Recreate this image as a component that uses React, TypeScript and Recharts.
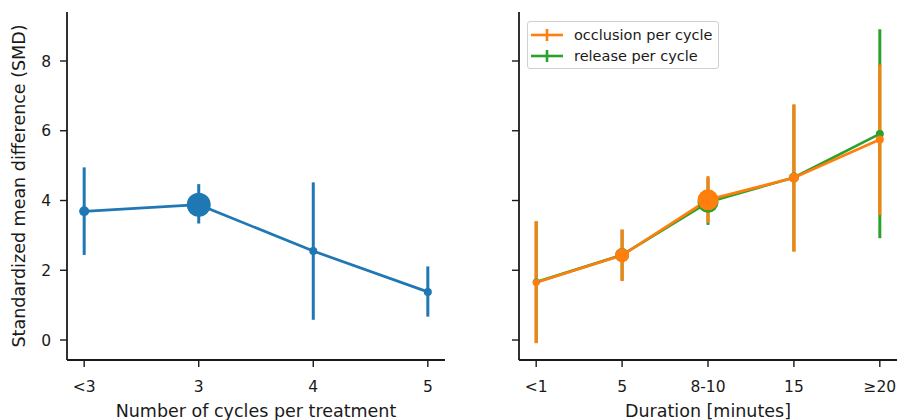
import { ComposedChart, Line, XAxis, YAxis, ErrorBar, Legend } from "recharts";

// Left panel: number of cycles per treatment
const cycleLabels = ["<3", "3", "4", "5"];
const cycleMean = [3.69, 3.88, 2.55, 1.38];
const cycleLow = [2.44, 3.34, 0.58, 0.67];
const cycleHigh = [4.95, 4.47, 4.52, 2.11];
const cycleDotR = [5, 12, 4, 4];

// Right panel: duration
const durationLabels = ["<1", "5", "8-10", "15", "≥20"];
const occlusionMean = [1.65, 2.43, 4.02, 4.65, 5.75];
const occlusionLow = [-0.09, 1.69, 3.36, 2.53, 3.58];
const occlusionHigh = [3.41, 3.17, 4.7, 6.76, 7.9];
const releaseMean = [1.66, 2.44, 3.95, 4.66, 5.91];
const releaseLow = [-0.08, 1.7, 3.3, 2.55, 2.92];
const releaseHigh = [3.4, 3.16, 4.66, 6.74, 8.91];
const durationDotR = [3.5, 7, 10.5, 5, 4];

const yTicks = [0, 2, 4, 6, 8];
const yDomain: [number, number] = [-0.573, 9.405];

const BLUE = "#1f77b4";
const ORANGE = "#ff7f0e";
const GREEN = "#2ca02c";
const FONT = "DejaVu Sans, sans-serif";
const INK = "#1a1a1a";

const leftData = cycleLabels.map((_, i) => ({
  x: i,
  mean: cycleMean[i],
  err: [cycleMean[i] - cycleLow[i], cycleHigh[i] - cycleMean[i]],
}));

const rightData = durationLabels.map((_, i) => ({
  x: i,
  occ: occlusionMean[i],
  occErr: [occlusionMean[i] - occlusionLow[i], occlusionHigh[i] - occlusionMean[i]],
  rel: releaseMean[i],
  relErr: [releaseMean[i] - releaseLow[i], releaseHigh[i] - releaseMean[i]],
}));

const tickStyle = { fontSize: 15.5, fill: INK, fontFamily: FONT };
const labelStyle = { fontSize: 17.5, fill: INK, fontFamily: FONT };
const axisLine = { stroke: INK, strokeWidth: 1.8 };
const tickLine = { stroke: INK, strokeWidth: 1.4 };

function dotRenderer(color: string, radii: number[]) {
  return (p: any) => (
    <circle key={`d-${p.index}`} cx={p.cx} cy={p.cy} r={radii[p.index]} fill={color} stroke="none" />
  );
}

function LegendBox() {
  const rows = [
    { label: "occlusion per cycle", color: ORANGE },
    { label: "release per cycle", color: GREEN },
  ];
  return (
    <div
      style={{
        border: "1px solid #d0d0d0",
        borderRadius: 3,
        background: "rgba(255,255,255,0.85)",
        padding: "2px 6px 2px 3px",
        fontFamily: FONT,
        fontSize: 14.5,
        color: INK,
        whiteSpace: "nowrap",
      }}
    >
      {rows.map((r) => (
        <div key={r.label} style={{ display: "flex", alignItems: "center", height: 21 }}>
          <svg width={32} height={14} style={{ marginRight: 11 }}>
            <line x1={0} y1={7} x2={32} y2={7} stroke={r.color} strokeWidth={2.6} />
            <line x1={16} y1={1} x2={16} y2={13} stroke={r.color} strokeWidth={2.6} />
          </svg>
          <span>{r.label}</span>
        </div>
      ))}
    </div>
  );
}

export default function App() {
  return (
    <div style={{ position: "fixed", left: 0, top: 0, width: 898, height: 420, background: "#fff" }}>
      <div style={{ position: "absolute", left: 0, top: 0 }}>
        <ComposedChart width={460} height={420} data={leftData} margin={{ top: 12, right: 15, bottom: 0, left: 0 }}>
          <XAxis
            type="number"
            dataKey="x"
            domain={[-0.15, 3.15]}
            ticks={[0, 1, 2, 3]}
            tickFormatter={(v: number) => cycleLabels[v]}
            height={60}
            tickSize={7}
            tickMargin={14}
            axisLine={axisLine}
            tickLine={tickLine}
            tick={tickStyle}
            allowDataOverflow
            label={{
              value: "Number of cycles per treatment",
              position: "insideBottom",
              offset: 3,
              style: labelStyle,
            }}
          />
          <YAxis
            type="number"
            domain={yDomain}
            ticks={yTicks}
            width={67}
            tickSize={7}
            tickMargin={9}
            axisLine={axisLine}
            tickLine={tickLine}
            tick={tickStyle}
            allowDataOverflow
            label={{
              value: "Standardized mean difference (SMD)",
              angle: -90,
              position: "center",
              dx: -15,
              style: { ...labelStyle, textAnchor: "middle" },
            }}
          />
          <Line
            dataKey="mean"
            stroke={BLUE}
            strokeWidth={2.7}
            dot={dotRenderer(BLUE, cycleDotR)}
            activeDot={false}
            isAnimationActive={false}
          >
            <ErrorBar dataKey="err" width={0} stroke={BLUE} strokeWidth={3} direction="y" isAnimationActive={false} />
          </Line>
        </ComposedChart>
      </div>
      <div style={{ position: "absolute", left: 460, top: 0 }}>
        <ComposedChart width={438} height={420} data={rightData} margin={{ top: 12, right: 1, bottom: 0, left: 0 }}>
          <XAxis
            type="number"
            dataKey="x"
            domain={[-0.2, 4.2]}
            ticks={[0, 1, 2, 3, 4]}
            tickFormatter={(v: number) => durationLabels[v]}
            height={60}
            tickSize={7}
            tickMargin={14}
            axisLine={axisLine}
            tickLine={tickLine}
            tick={tickStyle}
            allowDataOverflow
            label={{
              value: "Duration [minutes]",
              position: "insideBottom",
              offset: 3,
              style: labelStyle,
            }}
          />
          <YAxis
            type="number"
            domain={yDomain}
            ticks={yTicks}
            width={59}
            tickSize={7}
            tickFormatter={() => ""}
            axisLine={axisLine}
            tickLine={tickLine}
            tick={tickStyle}
            allowDataOverflow
          />
          <Legend
            layout="vertical"
            align="center"
            verticalAlign="middle"
            wrapperStyle={{ left: 67, top: 21, width: "auto" }}
            content={() => <LegendBox />}
          />
          <Line
            dataKey="rel"
            stroke={GREEN}
            strokeWidth={2.7}
            dot={dotRenderer(GREEN, durationDotR)}
            activeDot={false}
            isAnimationActive={false}
          >
            <ErrorBar dataKey="relErr" width={0} stroke={GREEN} strokeWidth={3} direction="y" isAnimationActive={false} />
          </Line>
          <Line
            dataKey="occ"
            stroke={ORANGE}
            strokeWidth={2.7}
            dot={dotRenderer(ORANGE, durationDotR)}
            activeDot={false}
            isAnimationActive={false}
          >
            <ErrorBar dataKey="occErr" width={0} stroke={ORANGE} strokeWidth={3} direction="y" isAnimationActive={false} />
          </Line>
        </ComposedChart>
      </div>
    </div>
  );
}
